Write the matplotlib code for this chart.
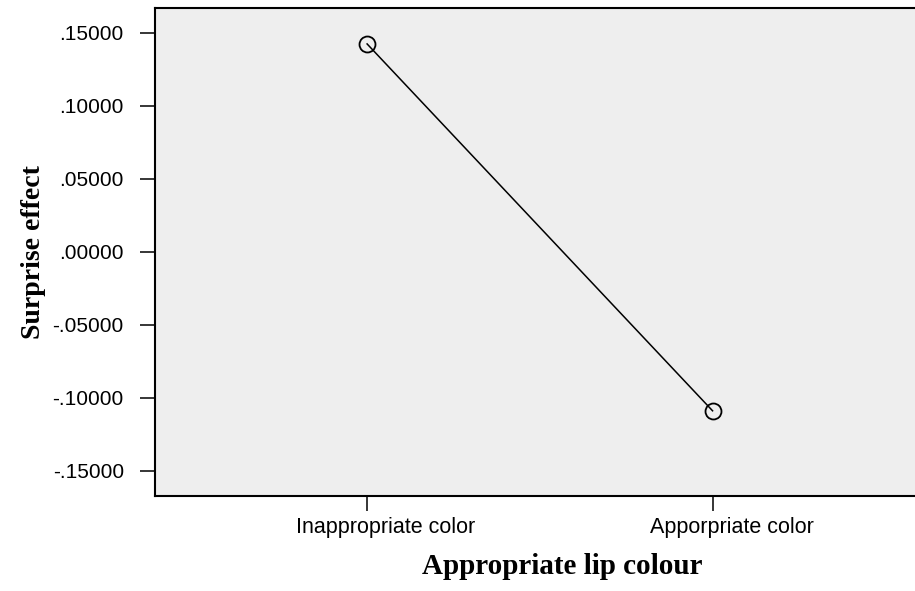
import matplotlib
matplotlib.use("Agg")
import matplotlib.pyplot as plt
from matplotlib.ticker import FuncFormatter
from matplotlib.transforms import ScaledTranslation

categories = ["Inappropriate color", "Apporpriate color"]
values = [0.1423, -0.1089]
yticks = [0.15, 0.10, 0.05, 0.0, -0.05, -0.10, -0.15]


def fmt(v, pos):
    s = f"{v:.5f}"
    if s.startswith("-0."):
        return "-" + s[2:]
    if s.startswith("0."):
        return s[1:]
    return s


fig = plt.figure(figsize=(9.15, 5.91), dpi=100)
ax = fig.add_axes([155 / 915, 1 - 495.5 / 591, 1 - 155 / 915, (495.5 - 8) / 591])
ax.set_facecolor("#EEEEEE")

x = list(range(len(categories)))
ax.plot(x, values, color="black", lw=1.1, marker="o", markersize=11.5,
        markerfacecolor="none", markeredgecolor="black", markeredgewidth=1.3)

ax.set_xlim(-0.614, 1.586)
ax.set_ylim(-0.1669, 0.1669)
ax.set_xticks(x)
ax.set_xticklabels(categories)
ax.set_yticks(yticks)
ax.yaxis.set_major_formatter(FuncFormatter(fmt))

for side in ["left", "bottom", "top"]:
    ax.spines[side].set_linewidth(1.5)
ax.spines["right"].set_visible(False)

ax.tick_params(axis="both", direction="out", length=10.5, width=1.1, colors="black")
ax.tick_params(axis="y", pad=12, labelsize=15)
ax.tick_params(axis="x", pad=5, labelsize=15.5)
for lab in ax.get_xticklabels() + ax.get_yticklabels():
    lab.set_fontfamily("Liberation Sans")

# SPSS puts the category labels a bit right of the tick
shift = ScaledTranslation(19 / 100, 0, fig.dpi_scale_trans)
for lab in ax.get_xticklabels():
    lab.set_transform(lab.get_transform() + shift)

ax.set_xlabel("Appropriate lip colour", fontsize=21, fontweight="bold",
              fontfamily="Liberation Serif")
ax.xaxis.set_label_coords(0.5355, -0.118)
ax.set_ylabel("Surprise effect", fontsize=20, fontweight="bold",
              fontfamily="Liberation Serif", labelpad=5)

fig.savefig("out.png", dpi=100)
